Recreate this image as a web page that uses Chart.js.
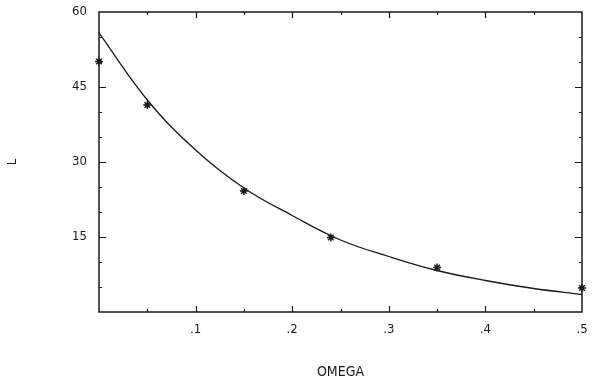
<!DOCTYPE html>
<html>
<head>
<meta charset="utf-8">
<script src="https://cdn.jsdelivr.net/npm/chart.js@4"></script>
<style>
  html, body { margin: 0; padding: 0; background: #fff; }
  #wrap { width: 593px; height: 381px; }
</style>
</head>
<body>
<div id="wrap"><canvas id="chart" width="593" height="381"></canvas></div>
<script>
// measured points (asterisks)
const omegaPts = [0, 0.05, 0.15, 0.24, 0.35, 0.5];
const lPts = [50.1, 41.4, 24.2, 14.9, 8.9, 4.8];

// fitted curve
const omegaCurve = [0, 0.05, 0.1, 0.15, 0.2, 0.25, 0.3, 0.35, 0.4, 0.45, 0.5];
const lCurve = [55.8, 42.4, 32.4, 24.8, 19.3, 14.4, 11.1, 8.3, 6.3, 4.7, 3.5];

const yTicks = [15, 30, 45, 60];
const xTicks = [0.1, 0.2, 0.3, 0.4, 0.5];

const ink = '#1a1a1a';
const font = { family: 'DejaVu Sans Condensed', size: 13 };

// frame + inward tick marks like the old plotter output
const frame = {
  id: 'frame',
  afterDraw(chart) {
    const { ctx, chartArea: a, scales } = chart;
    const xs = scales.x, ys = scales.y;
    ctx.save();
    ctx.strokeStyle = ink;
    ctx.lineWidth = 1.5;
    ctx.strokeRect(a.left, a.top, a.right - a.left, a.bottom - a.top);
    ctx.lineWidth = 1.2;
    ctx.beginPath();
    for (let v = 5; v < 60; v += 5) {
      const y = Math.round(ys.getPixelForValue(v)) + 0.5;
      const len = v % 15 === 0 ? 7 : 3;
      ctx.moveTo(a.left, y); ctx.lineTo(a.left + len, y);
      ctx.moveTo(a.right, y); ctx.lineTo(a.right - len, y);
    }
    for (let i = 1; i < 10; i++) {
      const x = Math.round(xs.getPixelForValue(i * 0.05)) + 0.5;
      const len = i % 2 === 0 ? 6 : 3;
      ctx.moveTo(x, a.bottom); ctx.lineTo(x, a.bottom - len);
      ctx.moveTo(x, a.top); ctx.lineTo(x, a.top + len);
    }
    ctx.stroke();
    ctx.restore();
  }
};

new Chart(document.getElementById('chart'), {
  type: 'scatter',
  data: {
    datasets: [
      {
        data: omegaCurve.map((x, i) => ({ x: x, y: lCurve[i] })),
        showLine: true,
        borderColor: ink,
        borderWidth: 1.3,
        pointRadius: 0,
        tension: 0.4,
        fill: false
      },
      {
        data: omegaPts.map((x, i) => ({ x: x, y: lPts[i] })),
        pointStyle: 'star',
        pointRadius: 4,
        borderColor: ink,
        borderWidth: 1.5,
        backgroundColor: ink,
        clip: false
      }
    ]
  },
  options: {
    responsive: false,
    animation: false,
    layout: { padding: { left: 0, right: 0, top: 0, bottom: 0 } },
    plugins: { legend: { display: false }, tooltip: { enabled: false } },
    scales: {
      x: {
        type: 'linear',
        min: 0, max: 0.5,
        grid: { display: false, drawTicks: false, tickLength: 0 },
        border: { display: false },
        afterBuildTicks(s) { s.ticks = xTicks.map(v => ({ value: v })); },
        afterFit(s) { s.height = 69; s.paddingRight = 11; },
        ticks: {
          color: ink, font: font, padding: 10, maxRotation: 0,
          callback: v => '.' + Math.round(v * 10)
        },
        title: {
          display: true, text: 'OMEGA', color: ink,
          font: { family: 'DejaVu Sans Condensed', size: 14 },
          padding: { top: 22, bottom: 0 }
        }
      },
      y: {
        min: 0, max: 60,
        grid: { display: false, drawTicks: false, tickLength: 0 },
        border: { display: false },
        afterBuildTicks(s) { s.ticks = yTicks.map(v => ({ value: v })); },
        afterFit(s) { s.width = 99; s.paddingTop = 12; },
        ticks: { color: ink, font: font, padding: 12 },
        title: {
          display: true, text: 'L', color: ink,
          font: { family: 'DejaVu Sans Condensed', size: 13 },
          padding: { top: 5, bottom: 0 }
        }
      }
    }
  },
  plugins: [frame]
});
</script>
</body>
</html>
